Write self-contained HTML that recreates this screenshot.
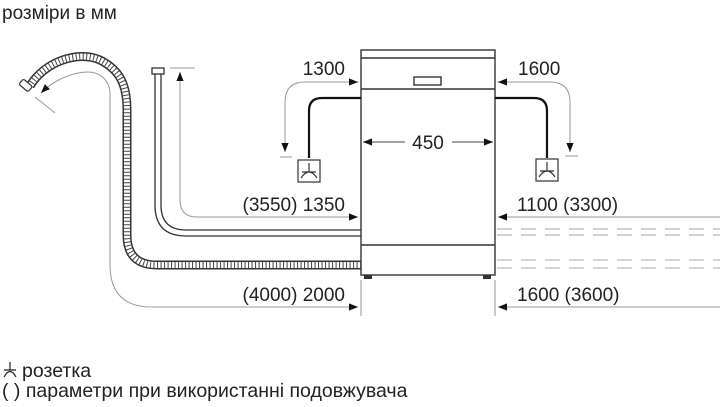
<!DOCTYPE html><html><head><meta charset="utf-8"><style>
body{margin:0;background:#fff;width:720px;height:402px;overflow:hidden}
text{font-family:"Liberation Sans",sans-serif;fill:#222}
</style></head><body>
<svg width="720" height="402" viewBox="0 0 720 402" xmlns="http://www.w3.org/2000/svg">
<defs>
<marker id="a" viewBox="0 0 10 10" refX="10" refY="5" markerWidth="9" markerHeight="9" markerUnits="userSpaceOnUse" orient="auto"><path d="M0,1 L10,5 L0,9z" fill="#111"/></marker>
</defs>
<text x="2" y="19" font-size="19">розміри в мм</text>
<g fill="none" stroke="#333" stroke-width="1.4">
<rect x="361" y="50" width="134" height="225"/>
<line x1="361" y1="58" x2="495" y2="58"/>
<line x1="361" y1="89" x2="495" y2="89"/>
<line x1="361" y1="245" x2="495" y2="245"/>
<rect x="414" y="77" width="27" height="8"/>
</g>
<rect x="364" y="275" width="8" height="4" fill="#333"/>
<rect x="483" y="275" width="8" height="4" fill="#333"/>
<g stroke="#444" stroke-width="1" fill="none">
<line x1="405" y1="142" x2="363" y2="142" marker-end="url(#a)"/>
<line x1="452" y1="142" x2="493" y2="142" marker-end="url(#a)"/>
</g>
<text x="428" y="149" font-size="19" text-anchor="middle">450</text>
<g fill="none" stroke="#111" stroke-width="2.2">
<path d="M361,98 L322,98 Q309,98 309,111 L309,158"/>
<path d="M495,98 L534,98 Q547,98 547,111 L547,158"/>
</g>
<g fill="none" stroke="#333" stroke-width="1.2">
<rect x="298" y="160" width="22" height="22"/>
<rect x="536" y="159" width="22" height="22"/>
<path d="M309,163 V172 M301,178 Q309,166 317,178 M302,172 H316"/>
<path d="M547,162 V171 M539,177 Q547,165 555,177 M540,171 H554"/>
</g>
<g fill="none" stroke="#999" stroke-width="1">
<path d="M359,82 L305,82 Q285,82 285,102 L285,152" marker-end="url(#a)"/>
<line x1="280" y1="157" x2="292" y2="157"/>
<path d="M497,82 L550,82 Q570,82 570,102 L570,152" marker-end="url(#a)"/>
<line x1="565" y1="156" x2="578" y2="156"/>
</g>
<path d="M320,82 L358,82" stroke="#999" marker-end="url(#a)"/>
<path d="M530,82 L498,82" stroke="#999" marker-end="url(#a)"/>
<text x="345" y="75" font-size="19" text-anchor="end">1300</text>
<text x="518" y="75" font-size="19">1600</text>
<g fill="none" stroke="#333" stroke-width="1.3">
<path d="M155,74 L155,205 Q155,236 186,236 L361,236"/>
<path d="M161,74 L161,205 Q161,230 186,230 L361,230"/>
<rect x="152" y="68" width="12" height="6" fill="#fff"/>
</g>
<g fill="none" stroke="#999" stroke-width="1">
<line x1="170" y1="68" x2="195" y2="68"/>
<path d="M180,200 L180,72" marker-end="url(#a)"/>
<path d="M180,200 Q180,217 197,217 L358,217" marker-end="url(#a)"/>
</g>
<text x="345" y="211" font-size="19" text-anchor="end">(3550) 1350</text>
<g fill="none">
<path d="M30,86 C44,62 78,50 100,60 C120,70 127,85 127,110 L127,235 Q127,265 157,265 L361,265" stroke="#333" stroke-width="9"/>
<path d="M30,86 C44,62 78,50 100,60 C120,70 127,85 127,110 L127,235 Q127,265 157,265 L361,265" stroke="#fff" stroke-width="6"/>
<path d="M30,86 C44,62 78,50 100,60 C120,70 127,85 127,110 L127,235 Q127,265 157,265 L361,265" stroke="#444" stroke-width="6" stroke-dasharray="1 2.5"/>
</g>
<rect x="20" y="82" width="12" height="7" rx="2" transform="rotate(40 26 85)" fill="#fff" stroke="#333" stroke-width="1.2"/>
<g fill="none" stroke="#999" stroke-width="1">
<path d="M110,110 L110,95 C110,80 100,72 88,72 C70,72 52,82 41,93" marker-end="url(#a)"/>
<line x1="35" y1="97" x2="55" y2="113"/>
<path d="M110,110 L110,265 Q110,307 152,307 L358,307" marker-end="url(#a)"/>
<line x1="361" y1="280" x2="361" y2="316"/>
<line x1="495" y1="280" x2="495" y2="316"/>
</g>
<text x="345" y="301" font-size="19" text-anchor="end">(4000) 2000</text>
<g fill="none" stroke="#999" stroke-width="1">
<path d="M720,217 L498,217" marker-end="url(#a)"/>
<path d="M720,307 L498,307" marker-end="url(#a)"/>
<g stroke-dasharray="15 9" stroke="#aaa">
<line x1="497" y1="229" x2="720" y2="229"/>
<line x1="497" y1="235" x2="720" y2="235"/>
<line x1="497" y1="260" x2="720" y2="260"/>
<line x1="497" y1="268" x2="720" y2="268"/>
</g>
</g>
<text x="517" y="211" font-size="19">1100 (3300)</text>
<text x="517" y="301" font-size="19">1600 (3600)</text>
<g stroke="#222" stroke-width="1.2" fill="none"><path d="M10,362 V370 M4,377 Q10,366 16,377 M4,370 H16"/></g>
<text x="22" y="377" font-size="19.5">розетка</text>
<text x="2" y="397" font-size="19.5">( ) параметри при використанні подовжувача</text>
</svg>
</body></html>
